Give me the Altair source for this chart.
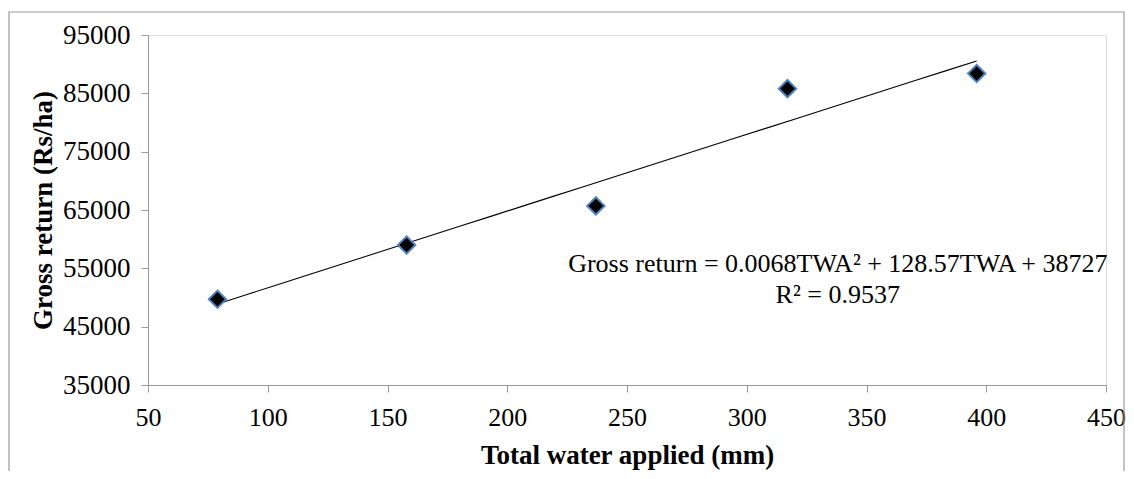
import altair as alt
import pandas as pd

# Data
twa = [79, 158, 237, 317, 396]
gross_return = [49700, 59000, 65700, 85800, 88400]
x_ticks = [50, 100, 150, 200, 250, 300, 350, 400, 450]
y_ticks = [35000, 45000, 55000, 65000, 75000, 85000, 95000]
eq_lines = ["Gross return = 0.0068TWA² + 128.57TWA + 38727", "R² = 0.9537"]
eq_x = [338, 338]
eq_y = [55700, 50400]

df = pd.DataFrame({"twa": twa, "gr": gross_return})
eq_df = pd.DataFrame({"t": eq_lines, "x": eq_x, "y": eq_y})

FONT = "Liberation Serif"

xs = alt.Scale(domain=[50, 450], nice=False, zero=False)
ys = alt.Scale(domain=[35000, 95000], nice=False, zero=False)

xax = alt.Axis(values=x_ticks, title="Total water applied (mm)", grid=False,
               labelFont=FONT, labelFontSize=26, labelColor="black", labelPadding=12,
               titleFont=FONT, titleFontSize=27, titleFontWeight="bold", titleColor="black",
               titlePadding=12, domainColor="#999999", tickColor="#999999", tickSize=7,
               labelFlush=False)
yax = alt.Axis(values=y_ticks, title="Gross return (Rs/ha)", grid=False, format="d",
               labelFont=FONT, labelFontSize=27, labelColor="black", labelPadding=11,
               titleFont=FONT, titleFontSize=27, titleFontWeight="bold", titleColor="black",
               titlePadding=5, domainColor="#999999", tickColor="#999999", tickSize=7,
               labelFlush=False)

frame = alt.Chart(df).mark_rect(filled=False, stroke="#999999", strokeWidth=1.2, clip=False).encode(
    x=alt.value(-139), x2=alt.value(976), y=alt.value(-23), y2=alt.value(470)
).transform_filter("datum.twa == 79")

base = alt.Chart(df)

trend = base.transform_regression("twa", "gr", method="poly", order=2).mark_line(
    color="black", strokeWidth=1.1
).encode(
    x=alt.X("twa:Q", scale=xs, axis=xax),
    y=alt.Y("gr:Q", scale=ys, axis=yax),
)

pts = base.mark_point(shape="diamond", filled=True, fill="black", stroke="#4F81BD",
                      strokeWidth=2, size=300, opacity=1).encode(
    x=alt.X("twa:Q", scale=xs, axis=xax),
    y=alt.Y("gr:Q", scale=ys, axis=yax),
)

eq = alt.Chart(eq_df).mark_text(font=FONT, fontSize=26, color="black", align="center",
                                baseline="middle").encode(
    x=alt.X("x:Q", scale=xs), y=alt.Y("y:Q", scale=ys), text="t:N"
)

chart = alt.layer(frame, trend, pts, eq).properties(
    width=958, height=350,
    autosize=alt.AutoSizeParams(type="none"),
    padding={"left": 140, "top": 27, "right": 20, "bottom": 86},
).configure_view(stroke=None).configure(background="white")

chart.save("out.html", embed_options={"renderer": "svg", "actions": False})
